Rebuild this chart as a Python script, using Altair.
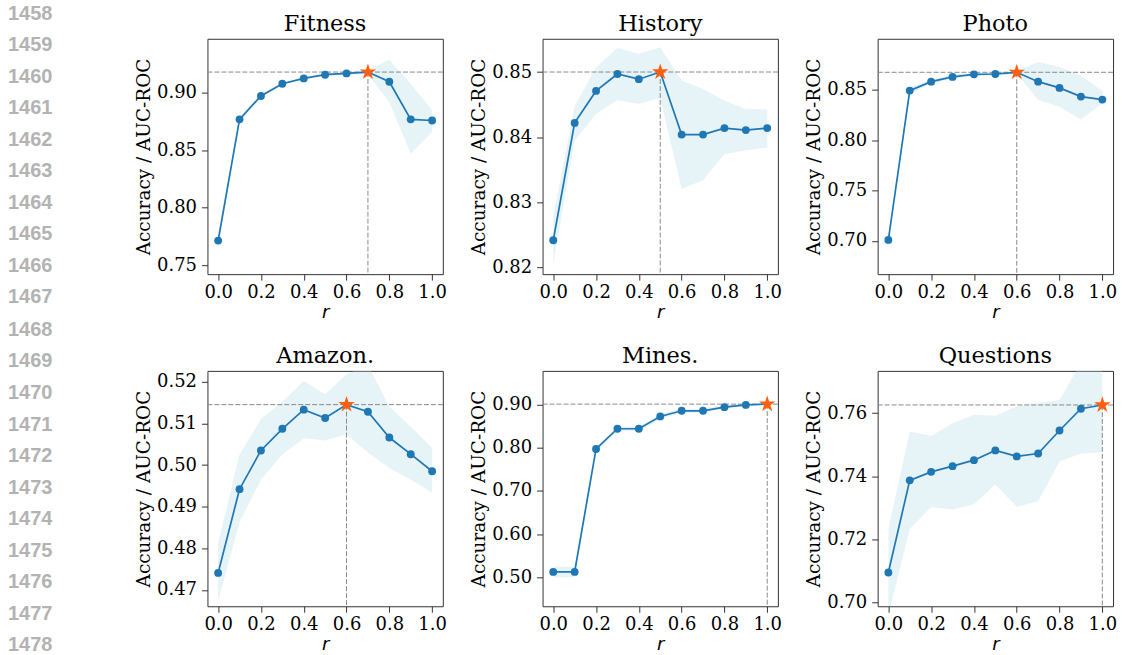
import altair as alt
import numpy as np
import pandas as pd

r_values = [0.0, 0.1, 0.2, 0.3, 0.4, 0.5, 0.6, 0.7, 0.8, 0.9, 1.0]
x_ticks = [0.0, 0.2, 0.4, 0.6, 0.8, 1.0]

panel_names = ["Fitness", "History", "Photo", "Amazon.", "Mines.", "Questions"]

fitness_mean = [0.7714, 0.8770, 0.8974, 0.9080, 0.9127, 0.9159, 0.9170, 0.9182, 0.9098, 0.8770, 0.8760]
fitness_lo = [0.7645, 0.8750, 0.8960, 0.9070, 0.9120, 0.9150, 0.9160, 0.9160, 0.8920, 0.8470, 0.8660]
fitness_hi = [0.7765, 0.8790, 0.8990, 0.9090, 0.9140, 0.9170, 0.9180, 0.9200, 0.9290, 0.9080, 0.8850]

history_mean = [0.8242, 0.8422, 0.8471, 0.8497, 0.8489, 0.8500, 0.8404, 0.8404, 0.8414, 0.8411, 0.8414]
history_lo = [0.8206, 0.8395, 0.8436, 0.8457, 0.8451, 0.8460, 0.8321, 0.8334, 0.8374, 0.8380, 0.8384]
history_hi = [0.8278, 0.8448, 0.8507, 0.8537, 0.8528, 0.8538, 0.8487, 0.8474, 0.8456, 0.8443, 0.8443]

photo_mean = [0.7010, 0.8493, 0.8582, 0.8629, 0.8655, 0.8658, 0.8675, 0.8582, 0.8520, 0.8434, 0.8404]
photo_lo = [0.6980, 0.8460, 0.8560, 0.8610, 0.8640, 0.8640, 0.8660, 0.8402, 0.8334, 0.8206, 0.8365]
photo_hi = [0.7040, 0.8530, 0.8600, 0.8650, 0.8670, 0.8670, 0.8690, 0.8777, 0.8727, 0.8642, 0.8493]

amazon_mean = [0.4741, 0.4942, 0.5035, 0.5087, 0.5133, 0.5113, 0.5145, 0.5128, 0.5066, 0.5026, 0.4985]
amazon_lo = [0.4674, 0.4863, 0.4965, 0.5025, 0.5064, 0.5059, 0.5074, 0.5030, 0.4993, 0.4965, 0.4933]
amazon_hi = [0.4813, 0.5025, 0.5110, 0.5152, 0.5202, 0.5170, 0.5218, 0.5240, 0.5140, 0.5092, 0.5041]

mines_mean = [0.5123, 0.5123, 0.7970, 0.8438, 0.8438, 0.8723, 0.8854, 0.8854, 0.8938, 0.8990, 0.9008]
mines_lo = [0.5000, 0.5000, 0.7920, 0.8380, 0.8380, 0.8670, 0.8810, 0.8810, 0.8900, 0.8960, 0.8980]
mines_hi = [0.5240, 0.5240, 0.8020, 0.8490, 0.8490, 0.8780, 0.8900, 0.8900, 0.8980, 0.9020, 0.9040]

questions_mean = [0.7095, 0.7387, 0.7414, 0.7432, 0.7451, 0.7482, 0.7463, 0.7472, 0.7545, 0.7614, 0.7626]
questions_lo = [0.6960, 0.7234, 0.7302, 0.7295, 0.7311, 0.7374, 0.7303, 0.7321, 0.7447, 0.7472, 0.7476]
questions_hi = [0.7232, 0.7542, 0.7528, 0.7568, 0.7595, 0.7592, 0.7621, 0.7632, 0.7642, 0.7760, 0.7780]

y_domains = [
    [0.7422, 0.9472],
    [0.8190, 0.8551],
    [0.6670, 0.9008],
    [0.4661, 0.5226],
    [0.4328, 0.9778],
    [0.6988, 0.7734],
]
y_ticks = [
    [0.75, 0.80, 0.85, 0.90],
    [0.82, 0.83, 0.84, 0.85],
    [0.70, 0.75, 0.80, 0.85],
    [0.47, 0.48, 0.49, 0.50, 0.51, 0.52],
    [0.50, 0.60, 0.70, 0.80, 0.90],
    [0.70, 0.72, 0.74, 0.76],
]

line_numbers_top = list(range(1458, 1468))
line_numbers_bottom = list(range(1468, 1479))

W = 236
H = 236
COL_GAP = 100
ROW_GAP = 97
PITCH = 31.6
SERIF = "DejaVu Serif"
BLUE = "#1f77b4"
BAND = "#add8e6"
STAR = "#ff5f0f"
DASH = "#8a8a8a"
FRAME = "#333333"
STAR_SHAPE = ("M0,-1L0.2245,-0.309L0.951,-0.309L0.363,0.118L0.588,0.809L0,0.382"
              "L-0.588,0.809L-0.363,0.118L-0.951,-0.309L-0.2245,-0.309Z")


def panel(name, mean, lo, hi, domain, ticks):
    df = pd.DataFrame({"r": r_values, "mean": mean, "lo": lo, "hi": hi})
    best = int(np.argmax(mean))
    best_df = df.iloc[[best]].reset_index(drop=True)
    pts_df = df.drop(index=best).reset_index(drop=True)

    xs = alt.Scale(domain=[-0.05, 1.05], nice=False, zero=False)
    ys = alt.Scale(domain=domain, nice=False, zero=False)
    x_axis = alt.Axis(
        values=x_ticks, format=".1f", title="r", grid=False, domain=False,
        tickSize=6, tickColor=FRAME, labelPadding=3,
        labelFont=SERIF, labelFontSize=18, labelColor="black",
        titleFont="DejaVu Sans", titleFontStyle="italic", titleFontWeight="normal",
        titleFontSize=18, titleColor="black", titlePadding=2,
    )
    y_axis = alt.Axis(
        values=ticks, format=".2f", title="Accuracy / AUC-ROC", grid=False, domain=False,
        tickSize=6, tickColor=FRAME, labelPadding=5,
        labelFont=SERIF, labelFontSize=18, labelColor="black",
        titleFont=SERIF, titleFontWeight="normal", titleFontSize=18.5,
        titleColor="black", titlePadding=3,
    )

    def X():
        return alt.X("r:Q", scale=xs, axis=x_axis)

    def Y(field="mean"):
        return alt.Y(field + ":Q", scale=ys, axis=y_axis)

    band = alt.Chart(df).mark_area(color=BAND, opacity=0.3, clip=True).encode(
        x=X(), y=Y("lo"), y2="hi:Q"
    )
    hline = alt.Chart(best_df).mark_rule(color=DASH, strokeDash=[5, 2], strokeWidth=1).encode(
        y=Y(), x=alt.value(0), x2=alt.value(W)
    )
    vline = alt.Chart(best_df).mark_rule(color=DASH, strokeDash=[5, 2], strokeWidth=1).encode(
        x=X(), y=Y(), y2=alt.value(H)
    )
    line = alt.Chart(df).mark_line(color=BLUE, strokeWidth=1.7).encode(x=X(), y=Y())
    pts = alt.Chart(pts_df).mark_circle(color=BLUE, size=62, opacity=1).encode(x=X(), y=Y())
    star = alt.Chart(best_df).mark_point(
        shape=STAR_SHAPE, filled=True, color=STAR, size=300, opacity=1
    ).encode(x=X(), y=Y())

    return alt.layer(band, hline, vline, line, pts, star).properties(
        width=W, height=H,
        view=alt.ViewBackground(stroke=FRAME, strokeWidth=1),
        title=alt.TitleParams(name, font=SERIF, fontSize=22.5, fontWeight="normal",
                              color="black", offset=3),
    )


def line_number_column(numbers, first_y):
    ln_df = pd.DataFrame({"n": numbers, "label": [str(v) for v in numbers]})
    y_range = [first_y, first_y + (numbers[-1] - numbers[0]) * PITCH]
    return alt.Chart(ln_df).mark_text(
        font="Liberation Sans", fontSize=20, fontWeight="bold", color="#b3b3b3",
        align="left", baseline="middle",
    ).encode(
        y=alt.Y("n:Q", scale=alt.Scale(domain=[numbers[0], numbers[-1]], range=y_range), axis=None),
        x=alt.value(0),
        text="label:N",
    ).properties(
        width=COL_GAP, height=H,
        view=alt.ViewBackground(stroke="transparent", strokeWidth=0),
    )


ln_top = line_number_column(line_numbers_top, -25)
ln_bottom = line_number_column(line_numbers_bottom, 13 + 10 * PITCH - (H + ROW_GAP + 38) + 1)

p_fit = panel(panel_names[0], fitness_mean, fitness_lo, fitness_hi, y_domains[0], y_ticks[0])
p_his = panel(panel_names[1], history_mean, history_lo, history_hi, y_domains[1], y_ticks[1])
p_pho = panel(panel_names[2], photo_mean, photo_lo, photo_hi, y_domains[2], y_ticks[2])
p_ama = panel(panel_names[3], amazon_mean, amazon_lo, amazon_hi, y_domains[3], y_ticks[3])
p_min = panel(panel_names[4], mines_mean, mines_lo, mines_hi, y_domains[4], y_ticks[4])
p_que = panel(panel_names[5], questions_mean, questions_lo, questions_hi, y_domains[5], y_ticks[5])

chart = alt.concat(
    ln_top, p_fit, p_his, p_pho,
    ln_bottom, p_ama, p_min, p_que,
    columns=4,
    spacing={"row": ROW_GAP, "column": COL_GAP},
    bounds="flush",
).properties(
    padding={"left": 8, "top": 3, "right": 5, "bottom": 0},
    background="white",
)

chart.save("out.html", embed_options={"renderer": "svg", "actions": False})
